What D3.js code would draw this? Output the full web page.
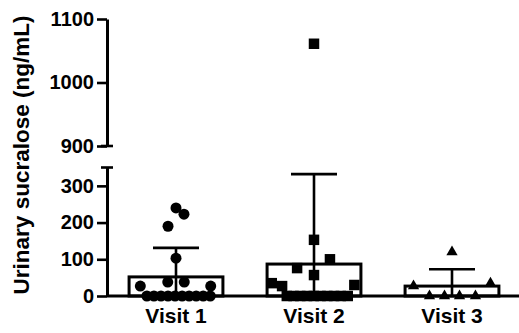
<!DOCTYPE html>
<html>
<head>
<meta charset="utf-8">
<script src="https://cdn.jsdelivr.net/npm/d3@7"></script>
<style>
  html, body { margin: 0; padding: 0; background: #fff; }
  svg { display: block; }
  text { font-family: "Liberation Sans", Arial, sans-serif; font-weight: bold; fill: #000; }
</style>
</head>
<body>
<svg id="chart" width="519" height="333"></svg>
<script>
// ---- data ----
const categories = ["Visit 1", "Visit 2", "Visit 3"];
const means = [52, 87, 27];
const sdTop = [131, 332, 73];

const visit1Values = [240, 223, 190, 103, 38, 38, 27, 27, 0, 0, 0, 0, 0, 0, 0, 0, 0, 0];
const visit1Jitter = [0, 0.085, -0.085, 0, -0.088, 0.088, -0.38, 0.37,
  -0.31, -0.235, -0.16, -0.085, -0.01, 0.065, 0.14, 0.215, 0.29, 0.365];
const visit2Values = [1061, 153, 100, 76, 57, 35, 27, 30, 0, 0, 0, 0, 0, 0, 0, 0, 0, 0];
const visit2Jitter = [0, 0, 0.17, -0.18, 0, -0.45, -0.34, 0.43,
  -0.29, -0.218, -0.146, -0.074, -0.002, 0.07, 0.142, 0.214, 0.286, 0.36];
const visit3Values = [120, 27, 35, 0, 0, 0, 0];
const visit3Jitter = [0, -0.41, 0.41, -0.24, -0.08, 0.08, 0.25];

const lowerTicks = [0, 100, 200, 300];
const upperTicks = [900, 1000, 1100];
const lowerDomain = [0, 350];
const upperDomain = [900, 1100];
const yLabel = "Urinary sucralose (ng/mL)";

// ---- layout ----
const svg = d3.select("#chart");
const axisX = 107;
const x = d3.scaleBand().domain(categories).range([axisX, axisX + 3 * 138])
  .paddingInner(0.32).paddingOuter(0.16);
const yLow = d3.scaleLinear().domain(lowerDomain).range([296, 167.5]);
const yHigh = d3.scaleLinear().domain(upperDomain).range([146, 19]);
const yOf = v => v >= upperDomain[0] ? yHigh(v) : yLow(v);

const groups = [
  { cat: categories[0], values: visit1Values, jitter: visit1Jitter, sym: d3.symbolCircle, size: 95 },
  { cat: categories[1], values: visit2Values, jitter: visit2Jitter, sym: d3.symbolSquare, size: 110 },
  { cat: categories[2], values: visit3Values, jitter: visit3Jitter, sym: d3.symbolTriangle, size: 55 }
];

// bars
svg.append("g").selectAll("rect").data(categories).join("rect")
  .attr("x", d => x(d))
  .attr("y", (d, i) => yLow(means[i]))
  .attr("width", x.bandwidth())
  .attr("height", (d, i) => yLow(0) - yLow(means[i]))
  .attr("fill", "#fff").attr("stroke", "#000").attr("stroke-width", 3);

// points
groups.forEach(g => {
  const cx = x(g.cat) + x.bandwidth() / 2;
  svg.append("g").selectAll("path").data(g.values).join("path")
    .attr("d", d3.symbol().type(g.sym).size(g.size))
    .attr("transform", (v, i) => `translate(${cx + g.jitter[i] * x.bandwidth()},${yOf(v)})`)
    .attr("fill", "#000");
});

// error bars
const capW = 46;
const eb = svg.append("g").attr("stroke", "#000").attr("stroke-width", 2.6);
categories.forEach((c, i) => {
  const cx = x(c) + x.bandwidth() / 2;
  eb.append("line").attr("x1", cx).attr("x2", cx).attr("y1", yLow(sdTop[i])).attr("y2", yLow(0));
  eb.append("line").attr("x1", cx - capW / 2).attr("x2", cx + capW / 2)
    .attr("y1", yLow(sdTop[i])).attr("y2", yLow(sdTop[i]));
});

// x axis line
svg.append("line").attr("x1", axisX).attr("x2", 519).attr("y1", yLow(0)).attr("y2", yLow(0))
  .attr("stroke", "#000").attr("stroke-width", 3);

// y axes (broken)
const fmt = d3.format("d");
const lowerAxis = d3.axisLeft(yLow).tickValues(lowerTicks).tickFormat(fmt).tickSize(10).tickPadding(3).tickSizeOuter(0);
const upperAxis = d3.axisLeft(yHigh).tickValues(upperTicks).tickFormat(fmt).tickSize(10).tickPadding(3).tickSizeOuter(0);
[lowerAxis, upperAxis].forEach(ax => {
  const g = svg.append("g").attr("transform", `translate(${axisX},0)`).call(ax);
  g.select(".domain").attr("stroke", "#000").attr("stroke-width", 3);
  g.selectAll(".tick line").attr("stroke", "#000").attr("stroke-width", 2.6);
  g.selectAll(".tick text").attr("font-size", 20).attr("fill", "#000")
    .style("font-family", "'Liberation Sans', Arial, sans-serif").style("font-weight", "bold");
});
// break caps
svg.append("line").attr("x1", axisX - 6).attr("x2", axisX + 6)
  .attr("y1", yHigh(upperDomain[0])).attr("y2", yHigh(upperDomain[0]))
  .attr("stroke", "#000").attr("stroke-width", 2.6);
svg.append("line").attr("x1", axisX - 6).attr("x2", axisX + 6)
  .attr("y1", yLow(lowerDomain[1])).attr("y2", yLow(lowerDomain[1]))
  .attr("stroke", "#000").attr("stroke-width", 2.6);

// x labels
svg.append("g").selectAll("text").data(categories).join("text")
  .attr("x", d => x(d) + x.bandwidth() / 2)
  .attr("y", 323)
  .attr("text-anchor", "middle")
  .attr("font-size", 21)
  .text(d => d);

// y label
svg.append("text")
  .attr("transform", "translate(29,155) rotate(-90)")
  .attr("text-anchor", "middle")
  .attr("font-size", 22.5)
  .text(yLabel);
</script>
</body>
</html>
